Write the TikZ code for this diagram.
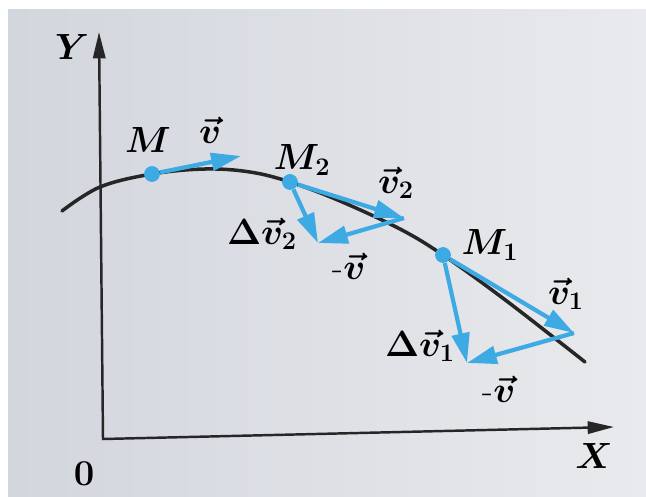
\documentclass[tikz,border=0pt]{standalone}
\usetikzlibrary{arrows.meta}
\definecolor{skyblue}{RGB}{62,170,228}
\definecolor{paperL}{RGB}{210,214,221}
\definecolor{paperR}{RGB}{233,234,237}
\begin{document}
\begin{tikzpicture}[
    x=0.02cm, y=-0.02cm,
    axis/.style={line width=1.4pt, black!85,
      {Triangle[length=15pt, width=7pt]}-{Triangle[length=15pt, width=7pt]}},
    traj/.style={line width=2pt, black!85, line cap=round},
    vec/.style={draw=skyblue, line width=2.4pt,
      -{Triangle[length=17pt, width=10pt]}},
    pt/.style={circle, fill=skyblue, inner sep=0pt, minimum size=9pt},
    lbl/.style={font=\fontsize{20}{24}\selectfont\boldmath, inner sep=1pt},
  ]
    \def\bw{8}  % white edge of the photo

    % paper
    \useasboundingbox (0,0) rectangle (646,497);
    \fill[white] (0,0) rectangle (646,497);
    \shade[left color=paperL, right color=paperR] (\bw,9) rectangle (646,497);

    % axes
    \coordinate (O)  at (103,439);
    \coordinate (Yt) at (99,32);
    \coordinate (Xt) at (614,427);
    \draw[axis] (Xt) -- (O) -- (Yt);
    \node[lbl] (ylbl) at (72,47)  {$Y$};
    \node[lbl] (xlbl) at (594,456) {$X$};
    \node[lbl] (olbl) at (84,474) {$0$};

    % trajectory
    \draw[traj] plot[smooth, tension=0.6] coordinates {
      (62,211) (100,187) (152,174) (205,169) (250,172) (290,182)
      (340,201) (400,229) (443,255) (500,296) (557,340) (585,362)};

    % points on the path
    \node[pt] (M)  at (152,174) {};
    \node[pt] (M2) at (290,182) {};
    \node[pt] (M1) at (443,255) {};

    % vector tips
    \coordinate (vt)   at (241,156);
    \coordinate (v2t)  at (404,218);
    \coordinate (dv2t) at (318,243);
    \coordinate (v1t)  at (574,333);
    \coordinate (dv1t) at (467,363);

    % point M
    \draw[vec] (M) -- (vt);
    \node[lbl] (lM) at (148,140) {$M$};
    \node[lbl] (lv) at (210,130) {$\vec{v}$};

    % point M2
    \draw[vec] (M2) -- (v2t);
    \draw[vec] (M2) -- (dv2t);
    \draw[vec] (v2t) -- (dv2t);
    \node[lbl] (lM2)  at (302,160) {$M_2$};
    \node[lbl] (lv2)  at (396,183) {$\vec{v}_2$};
    \node[lbl] (ldv2) at (262,234) {$\Delta\vec{v}_2$};
    \node[lbl] (lmv2) at (349,266) {-$\vec{v}$};

    % point M1
    \draw[vec] (M1) -- (v1t);
    \draw[vec] (M1) -- (dv1t);
    \draw[vec] (v1t) -- (dv1t);
    \node[lbl] (lM1)  at (490,245) {$M_1$};
    \node[lbl] (lv1)  at (566,294) {$\vec{v}_1$};
    \node[lbl] (ldv1) at (420,346) {$\Delta\vec{v}_1$};
    \node[lbl] (lmv1) at (499,389) {-$\vec{v}$};
\end{tikzpicture}
\end{document}
